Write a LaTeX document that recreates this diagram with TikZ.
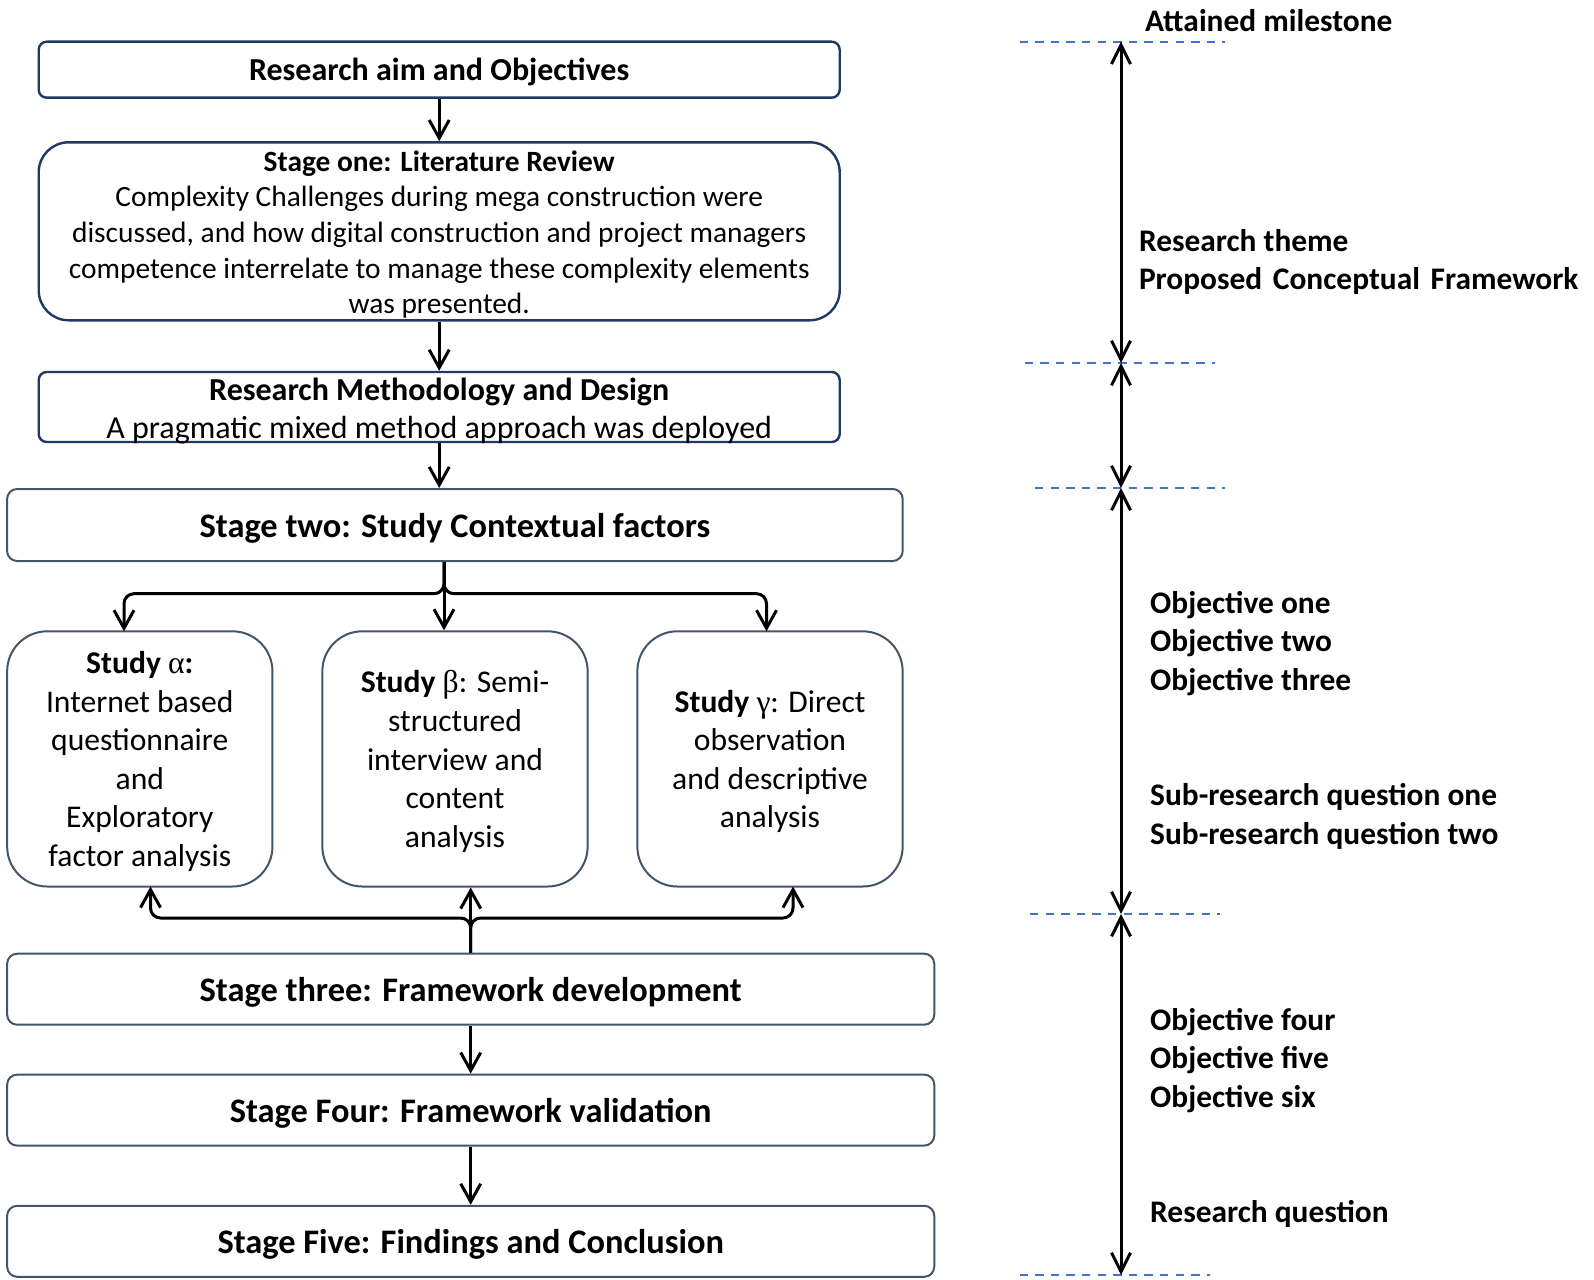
\documentclass[tikz,border=0pt]{standalone}
\usepackage{fontspec}
\setmainfont{Carlito}
\newfontfamily\greekserif{Liberation Serif}
\usetikzlibrary{arrows.meta,calc}
\definecolor{navyedge}{HTML}{1F3864}
\definecolor{slateedge}{HTML}{44546A}
\definecolor{guideblue}{HTML}{4472C4}
\newcommand\gr[1]{{\greekserif\mdseries #1}}
\newcommand\widesp{\hspace{0.34em}}
\begin{document}
\begin{tikzpicture}[x=0.5pt,y=-0.5pt,
  topbox/.style={draw=navyedge,line width=1.2pt,inner sep=0pt,align=center,
    minimum width=801*0.5pt,text depth=0pt},
  lowbox/.style={draw=slateedge,line width=1pt,inner sep=0pt,align=center,text depth=0pt},
  stagebox/.style={lowbox,minimum width=927.1*0.5pt,minimum height=71*0.5pt,
    rounded corners=5pt,font=\bfseries\fontsize{17.2}{21}\selectfont},
  studybox/.style={lowbox,minimum width=265.3*0.5pt,minimum height=255.2*0.5pt,
    rounded corners=20pt,font=\fontsize{15.8}{19.3}\selectfont},
  textonly/.style={inner sep=0pt,align=center},
  arr/.style={line width=1.5pt,-{Straight Barb[length=9pt,width=10pt,line width=1.5pt]}},
  span/.style={line width=1.5pt,
    {Straight Barb[length=9.5pt,width=9.5pt,line width=1.5pt]}-{Straight Barb[length=9.5pt,width=9.5pt,line width=1.5pt]}},
  guide/.style={draw=guideblue,line width=1pt,dash pattern=on 4.2pt off 3.6pt},
  note/.style={anchor=west,inner sep=0pt,align=left,
    font=\bfseries\fontsize{15.7}{19.3}\selectfont}]
\useasboundingbox (0,0) rectangle (1594,1279);

% ---- left column: research process ----
\node[topbox,minimum height=56*0.5pt,rounded corners=4pt,
  font=\bfseries\fontsize{16}{19.5}\selectfont] (aim) at (439.2,69.7)
  {Research aim and Objectives};

\node[topbox,minimum height=178*0.5pt,rounded corners=15pt] (lit) at (439.2,231.3) {};
\node[textonly,font=\fontsize{14.7}{17.8}\selectfont] (littext) at (439.2,234.5)
  {\textbf{Stage one: Literature Review}\\
   Complexity Challenges during mega construction were\\
   discussed, and how digital construction and project managers\\
   competence interrelate to manage these complexity elements\\
   was presented.};

\node[topbox,minimum height=70*0.5pt,rounded corners=4pt] (meth) at (439.2,407) {};
\node[textonly,font=\fontsize{16}{18.8}\selectfont] (methtext) at (439.2,411)
  {\textbf{Research Methodology and Design}\\
   A pragmatic mixed method approach was deployed};

\node[lowbox,minimum width=895.6*0.5pt,minimum height=72*0.5pt,rounded corners=5pt,
  font=\bfseries\fontsize{17.2}{21}\selectfont] (two) at (454.9,525)
  {Stage two: Study Contextual factors};

\node[studybox] (sa) at (139.8,758.9)
  {\textbf{Study \gr{α}:}\\Internet based\\questionnaire\\and\\Exploratory\\factor analysis};
\node[studybox] (sb) at (455,758.9)
  {\textbf{Study \gr{β}}: Semi-\\structured\\interview and\\content\\analysis};
\node[studybox] (sc) at (770,758.9)
  {\textbf{Study \gr{γ}}: Direct\\observation\\and descriptive\\analysis};

\node[stagebox] (three) at (470.7,989.2) {Stage three: Framework development};
\node[stagebox] (four)  at (470.7,1110.1) {Stage Four: Framework validation};
\node[stagebox] (five)  at (470.7,1241.3) {Stage Five: Findings and Conclusion};

% ---- connectors of the process ----
\draw[arr] (aim.south) -- (lit.north);
\draw[arr] (lit.south) -- (meth.north);
\draw[arr] (meth.south) -- (meth.south |- two.north);

% branching from stage two to the three studies
\coordinate (split) at (444,593.7);
\coordinate (inA) at (124,631.3);
\coordinate (inC) at (766.5,631.3);
\draw[arr,rounded corners=5pt] (split |- two.south) -- (split) -| (inA);
\draw[arr,rounded corners=5pt] (split |- two.south) -- (split) -| (inC);
\draw[arr] (split |- two.south) -- (split |- sb.north);

% feedback from stage three to the studies
\coordinate (merge) at (470.7,918);
\coordinate (outA) at (150.5,886.5);
\coordinate (outC) at (793,886.5);
\draw[arr,rounded corners=5pt] (three.north) -- (merge) -| (outA);
\draw[arr,rounded corners=5pt] (three.north) -- (merge) -| (outC);
\draw[arr] (three.north) -- (three.north |- sb.south);

\draw[arr] (three.south) -- (four.north);
\draw[arr] (four.south) -- (five.north);

% ---- right column: milestones ----
\coordinate (m0) at (1121,41.7);
\coordinate (m1) at (1121,363);
\coordinate (m2) at (1121,488);
\coordinate (m3) at (1121,914);
\coordinate (m4) at (1121,1275);

\draw[guide] (1019.6,41.7) -- (1225,41.7);
\draw[guide] (1024.8,363) -- (1214.8,363);
\draw[guide] (1035,488) -- (1225,488);
\draw[guide] (1030,914) -- (1220,914);
\draw[guide] (1019.6,1275) -- (1209.7,1275);

\draw[span] (m0) -- (m1);
\draw[span] (m1) -- (m2);
\draw[span] (m2) -- (m3);
\draw[span] (m3) -- (m4);

\node[note] (hdr) at (1144.7,20.3) {Attained milestone};
\node[note] (theme) at (1138.6,261.8) {Research theme\\Proposed\widesp Conceptual\widesp Framework};
\node[note] (obj1) at (1149.8,643.5) {Objective one\\Objective two\\Objective three};
\node[note] (subq) at (1149.8,816.3) {Sub-research question one\\Sub-research question two};
\node[note] (obj4) at (1149.8,1060.3) {Objective four\\Objective five\\Objective six};
\node[note] (rq) at (1149.8,1213.8) {Research question};
\end{tikzpicture}
\end{document}
